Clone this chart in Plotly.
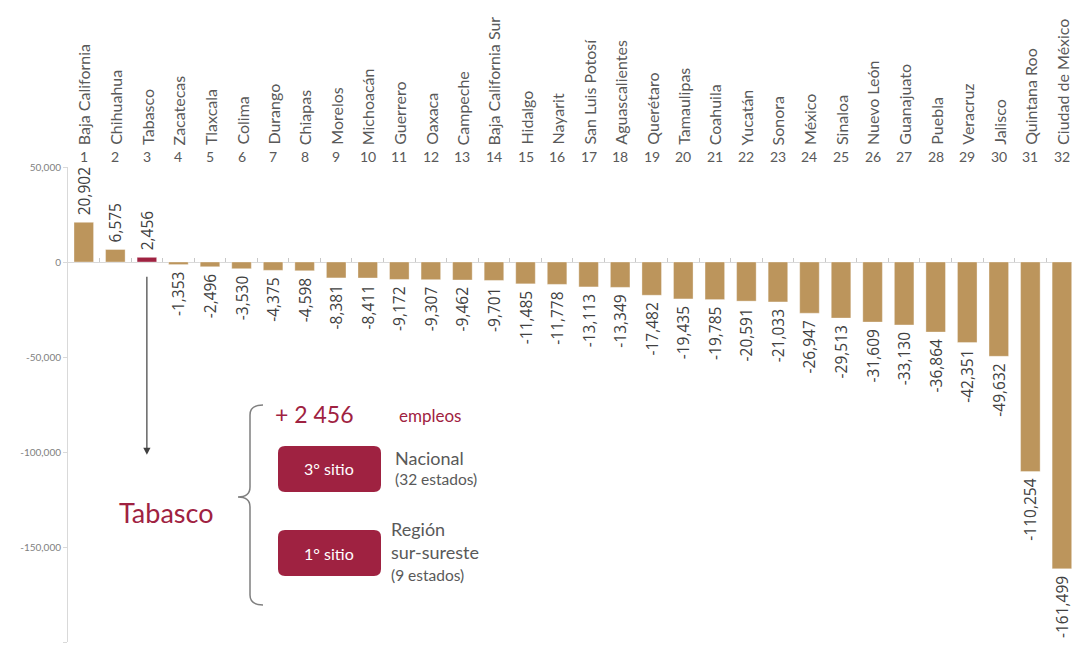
import plotly.graph_objects as go

states = ["Baja California", "Chihuahua", "Tabasco", "Zacatecas", "Tlaxcala", "Colima",
          "Durango", "Chiapas", "Morelos", "Michoacán", "Guerrero", "Oaxaca", "Campeche",
          "Baja California Sur", "Hidalgo", "Nayarit", "San Luis Potosí", "Aguascalientes",
          "Querétaro", "Tamaulipas", "Coahuila", "Yucatán", "Sonora", "México", "Sinaloa",
          "Nuevo León", "Guanajuato", "Puebla", "Veracruz", "Jalisco", "Quintana Roo",
          "Ciudad de México"]
values = [20902, 6575, 2456, -1353, -2496, -3530, -4375, -4598, -8381, -8411, -9172,
          -9307, -9462, -9701, -11485, -11778, -13113, -13349, -17482, -19435, -19785,
          -20591, -21033, -26947, -29513, -31609, -33130, -36864, -42351, -49632,
          -110254, -161499]
ranks = [str(i + 1) for i in range(len(states))]
highlight = "Tabasco"
y_ticks = [50000, 0, -50000, -100000, -150000, -200000]

GOLD = "#BC955C"
WINE = "#9F2241"
GRAY = "#595959"

W, H = 1072, 645
L, R, T, B = 68, 1072, 167, 642


def px(x):
    return (x - L) / (R - L)


def py(y):
    return (B - y) / (B - T)


colors = [WINE if s == highlight else GOLD for s in states]
# non-breaking space as padding between bar end and label
labels = [("\u00a0" + f"{v:,}") if v >= 0 else (f"{v:,}" + "\u00a0") for v in values]

fig = go.Figure()
fig.add_trace(go.Bar(
    x=states, y=values, marker=dict(color=colors, line=dict(width=1, color="rgba(255,255,255,0.35)")),
    width=0.62,
    text=labels, textposition="outside", textangle=-90, constraintext="none",
    textfont=dict(family="Open Sans", size=15.5, color="#404040"),
    cliponaxis=False, hoverinfo="skip"))

annotations = []
for s, r in zip(states, ranks):
    annotations.append(dict(x=s, xref="x", y=py(156), yref="paper", text=r,
                            showarrow=False, xanchor="center", yanchor="middle",
                            font=dict(family="Lato", size=14, color=GRAY)))
    annotations.append(dict(x=s, xref="x", y=py(147), yref="paper", text=s,
                            showarrow=False, textangle=-90, xanchor="center",
                            yanchor="bottom",
                            font=dict(family="Lato", size=16, color=GRAY)))

# arrow from Tabasco bar
annotations.append(dict(x=highlight, y=-101500, xref="x", yref="y",
                        ax=highlight, ay=-7000, axref="x", ayref="y",
                        text="", showarrow=True, arrowhead=2, arrowsize=1.2,
                        arrowwidth=1.2, arrowcolor="#404040"))


def txt(x, y, t, size, color, xanchor="left", family="Lato"):
    annotations.append(dict(x=px(x), y=py(y), xref="paper", yref="paper", text=t,
                            showarrow=False, xanchor=xanchor, yanchor="middle",
                            font=dict(family=family, size=size, color=color)))


txt(166, 512, "Tabasco", 27, WINE, "center")
txt(273, 414, "+ 2 456", 23, WINE)
txt(397, 415, "empleos", 17, WINE)
txt(329, 469, "3° sitio", 16, "white", "center")
txt(329, 553, "1° sitio", 16, "white", "center")
txt(393, 458, "Nacional", 18, GRAY)
txt(393, 479, "(32 estados)", 15.5, GRAY)
txt(389, 529, "Región", 18, GRAY)
txt(389, 552, "sur-sureste", 18, GRAY)
txt(389, 575, "(9 estados)", 15.5, GRAY)


def rounded_rect(x0, y0, x1, y1, r):
    p = [f"M {px(x0 + r)},{py(y0)}", f"L {px(x1 - r)},{py(y0)}",
         f"Q {px(x1)},{py(y0)} {px(x1)},{py(y0 + r)}", f"L {px(x1)},{py(y1 - r)}",
         f"Q {px(x1)},{py(y1)} {px(x1 - r)},{py(y1)}", f"L {px(x0 + r)},{py(y1)}",
         f"Q {px(x0)},{py(y1)} {px(x0)},{py(y1 - r)}", f"L {px(x0)},{py(y0 + r)}",
         f"Q {px(x0)},{py(y0)} {px(x0 + r)},{py(y0)}", "Z"]
    return dict(type="path", xref="paper", yref="paper", path=" ".join(p),
                fillcolor=WINE, line=dict(width=0), layer="below")


brace = " ".join([
    f"M {px(263)},{py(405)}", f"Q {px(250)},{py(405)} {px(250)},{py(415)}",
    f"L {px(250)},{py(487)}", f"Q {px(250)},{py(497)} {px(238)},{py(497)}",
    f"Q {px(250)},{py(497)} {px(250)},{py(507)}", f"L {px(250)},{py(595)}",
    f"Q {px(250)},{py(605)} {px(263)},{py(605)}"])

shapes = [
    rounded_rect(278, 446, 381, 492, 7),
    rounded_rect(278, 530, 381, 576, 7),
    dict(type="path", xref="paper", yref="paper", path=brace,
         line=dict(color="#7f7f7f", width=1.5)),
]

fig.update_layout(
    width=W, height=H, margin=dict(l=L, r=W - R, t=T, b=H - B),
    paper_bgcolor="white", plot_bgcolor="white", showlegend=False,
    annotations=annotations, shapes=shapes,
    xaxis=dict(type="category", range=[-0.5, 31.32], showticklabels=False,
               showgrid=False, zeroline=False, showline=True, linecolor="#d9d9d9",
               linewidth=1, anchor="free", position=py(262), ticks="inside",
               tickson="boundaries", ticklen=4, tickcolor="#c8c8c8", layer="below traces"),
    yaxis=dict(range=[-200000, 50000], tickvals=y_ticks,
               ticktext=[f"{v:,}" for v in y_ticks], showgrid=False, zeroline=False,
               showline=True, linecolor="#d9d9d9", ticks="outside", ticklen=4,
               tickcolor="#d9d9d9",
               tickfont=dict(family="Lato", size=10, color="#7f7f7f")),
)

fig.write_html("out.html", config={"displayModeBar": False},
               post_script="document.body.style.margin='0px';"
                           "document.body.style.overflow='hidden';")
